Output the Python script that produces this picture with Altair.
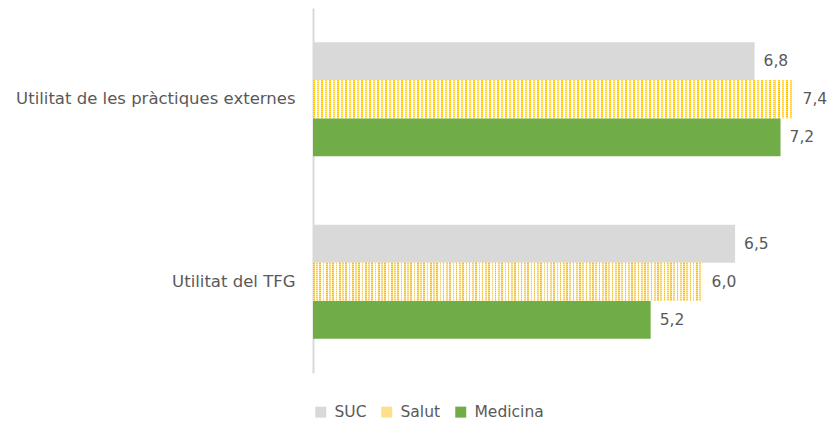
import altair as alt
import pandas as pd

categories = ["Utilitat de les pràctiques externes", "Utilitat del TFG"]
series = ["SUC", "Salut", "Medicina"]
suc = [6.8, 6.5]
salut = [7.4, 6.0]
medicina = [7.2, 5.2]

colors = ["#D9D9D9", "#FFE08A", "#70AD47"]

rows = []
for s, vals in zip(series, [suc, salut, medicina]):
    for c, v in zip(categories, vals):
        rows.append({"cat": c, "serie": s, "val": v, "lbl": f"{v:.1f}".replace(".", ",")})
df = pd.DataFrame(rows)

FONT = "DejaVu Sans"
TXT = "#595959"
FS = 16.5

# dotted pattern imitation: vertical stripes + semi-transparent white horizontal stripes
stops = []
N = 120
for i in range(N):
    a = i / N
    b = (i + 0.5) / N
    e = (i + 1) / N
    c1 = "#FFC000" if i % 2 == 0 else "#FFD040"
    stops += [
        {"offset": a, "color": c1},
        {"offset": b, "color": c1},
        {"offset": b, "color": "#FFFFFF"},
        {"offset": e, "color": "#FFFFFF"},
    ]
grad = alt.LinearGradient(gradient="linear", x1=0, x2=1, y1=0, y2=0, stops=stops)

stops2 = []
M = 19
for i in range(M):
    a = i / M
    b = (i + 0.5) / M
    e = (i + 1) / M
    stops2 += [
        {"offset": a, "color": "rgba(255,255,255,0)"},
        {"offset": b, "color": "rgba(255,255,255,0)"},
        {"offset": b, "color": "rgba(255,255,255,0.5)"},
        {"offset": e, "color": "rgba(255,255,255,0.5)"},
    ]
grad2 = alt.LinearGradient(gradient="linear", x1=0, x2=0, y1=0, y2=1, stops=stops2)

y_enc = alt.Y("cat:N", sort=categories, title=None,
              scale=alt.Scale(paddingInner=0.375, paddingOuter=0.1875),
              axis=alt.Axis(ticks=False, domain=True, domainColor="#D9D9D9", domainWidth=2,
                            labelFont=FONT, labelFontSize=FS, labelColor=TXT,
                            labelPadding=18, labelLimit=400))
yoff = alt.YOffset("serie:N", sort=series, scale=alt.Scale(paddingInner=0, paddingOuter=0))
x_enc = alt.X("val:Q", axis=None, scale=alt.Scale(domain=[0, 7.7], nice=False, zero=True))

base = alt.Chart(df)

bars = base.mark_bar(size=38).encode(
    y=y_enc, yOffset=yoff, x=x_enc,
    color=alt.Color("serie:N", sort=series,
                    scale=alt.Scale(domain=series, range=colors),
                    legend=alt.Legend(title=None, orient="none", direction="horizontal",
                                      legendX=0, legendY=396,
                                      symbolType="square", symbolSize=121,
                                      symbolStrokeWidth=0,
                                      labelFont=FONT, labelFontSize=15.5, labelColor=TXT,
                                      labelOffset=6, columnPadding=12)),
)

pat = base.transform_filter(alt.datum.serie == "Salut").mark_bar(size=38, fill=grad).encode(
    y=y_enc, yOffset=yoff, x=x_enc)
pat2 = base.transform_filter(alt.datum.serie == "Salut").mark_bar(size=38, fill=grad2).encode(
    y=y_enc, yOffset=yoff, x=x_enc)

labels = base.mark_text(align="left", baseline="middle", dx=9, font=FONT,
                        fontSize=15.5, color=TXT).encode(
    y=y_enc, yOffset=yoff, x=x_enc, text="lbl:N")

chart = alt.layer(bars, pat, pat2, labels).properties(
    width=500, height=365,
    autosize=alt.AutoSizeParams(type="none"),
    padding={"left": 305, "top": 0, "right": 16, "bottom": 49},
).configure_view(stroke=None)

chart.save("out.html", embed_options={"renderer": "svg", "actions": False})
